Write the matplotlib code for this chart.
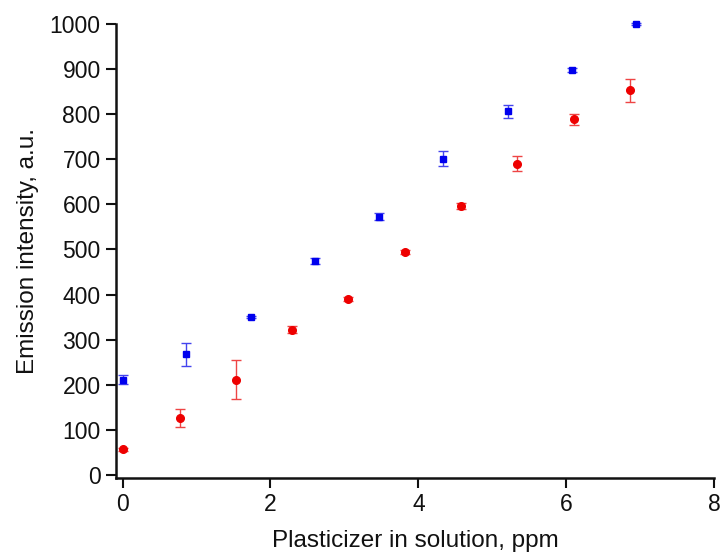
import matplotlib
matplotlib.use("Agg")
import matplotlib.pyplot as plt

plt.rcParams['font.family'] = ['Liberation Sans', 'DejaVu Sans']

# blue squares
blue_x = [0.0, 0.86, 1.73, 2.6, 3.47, 4.34, 5.21, 6.08, 6.94]
blue_y = [211, 267, 350, 474, 573, 701, 806, 898, 1000]
blue_err = [10, 25, 3, 7, 7, 17, 15, 4, 3]

# red circles
red_x = [0.0, 0.77, 1.53, 2.29, 3.05, 3.82, 4.58, 5.34, 6.1, 6.87]
red_y = [57, 126, 211, 322, 390, 494, 596, 690, 789, 853]
red_err = [3, 20, 43, 8, 5, 5, 6, 17, 12, 25]

fig = plt.figure(figsize=(7.23, 5.55), dpi=100)
ax = fig.add_axes([0.1604, 0.1387, 0.8272, 0.8181])

for x, y, e, fmt, col, ecol, ms in [
        (blue_x, blue_y, blue_err, 's', '#0000ee', '#4444ee', 5),
        (red_x, red_y, red_err, 'o', '#ee0000', '#ee4444', 5.5)]:
    cont = ax.errorbar(x, y, yerr=e, fmt=fmt, color=col, ms=ms,
                       ecolor=ecol, elinewidth=1, capsize=3.5, capthick=1)
    for art in cont.lines[:2]:
        for a in (art if isinstance(art, tuple) else [art]):
            a.set_clip_on(False)
    for a in cont.lines[2]:
        a.set_clip_on(False)

ax.set_xlim(-0.09, 8)
ax.set_ylim(-7, 1000)
ax.set_xticks([0, 2, 4, 6, 8])
ax.set_yticks(range(0, 1001, 100))

for s in ['top', 'right']:
    ax.spines[s].set_visible(False)
for s in ['left', 'bottom']:
    ax.spines[s].set_linewidth(1.8)
    ax.spines[s].set_color('#111111')
ax.tick_params(direction='out', length=7, width=1.5, labelsize=16.5, pad=4,
               colors='#111111')

ax.set_xlabel('Plasticizer in solution, ppm', fontsize=17.5, labelpad=10,
              color='#111111')
ax.set_ylabel('Emission intensity, a.u.', fontsize=17.5, labelpad=8,
              color='#111111')

fig.savefig('out.png', dpi=100)
